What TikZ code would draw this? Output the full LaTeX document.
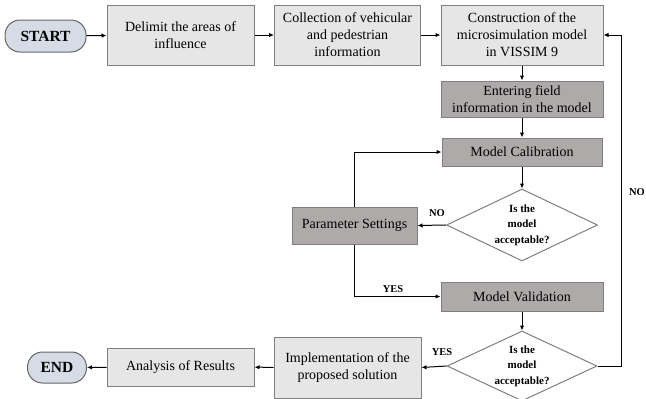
\documentclass[tikz,border=0pt]{standalone}
\usepackage{fontspec}
\setmainfont{Liberation Serif}
\usetikzlibrary{shapes.geometric,arrows.meta}
\definecolor{lightbox}{HTML}{E7E6E6}
\definecolor{darkbox}{HTML}{AEAAAA}
\definecolor{termfill}{HTML}{D6DCE5}
\definecolor{boxline}{HTML}{7F7F7F}
\begin{document}
\begin{tikzpicture}[x=1pt,y=-1pt,
  sz/.style 2 args={minimum width=#1pt, minimum height=#2pt},
  basebox/.style={draw=boxline, line width=1pt, inner sep=0pt, align=center,
    font=\fontsize{14}{17}\selectfont},
  lbox/.style={basebox, fill=lightbox},
  dbox/.style={basebox, fill=darkbox},
  term/.style={draw=boxline!80!black, line width=1pt, fill=termfill, rounded corners=15pt,
    inner sep=0pt, font=\fontsize{15.5}{18}\selectfont\bfseries},
  dec/.style={diamond, draw=boxline, line width=1pt, fill=white, inner sep=0pt},
  dectext/.style={align=center, font=\fontsize{11}{15.5}\selectfont\bfseries},
  lab/.style={font=\fontsize{10.5}{12}\selectfont\bfseries, inner sep=0pt},
  arr/.style={-{Latex[length=5pt,width=4.5pt]}, line width=1pt}
]
\useasboundingbox (0,0) rectangle (646,399);

\node[term, sz={81}{32}] (start) at (45.5,36) {START};
\node[lbox, sz={147}{60}] (b1) at (180.5,35) {Delimit the areas of\\influence};
\node[lbox, sz={146}{60}] (b2) at (347.5,35) {Collection of vehicular\\and pedestrian\\information};
\node[lbox, sz={162}{60}] (b3) at (522,35) {Construction of the\\microsimulation model\\in VISSIM 9};
\node[dbox, sz={162}{36}] (b4) at (522,99) {Entering field\\information in the model};
\node[dbox, sz={160}{28}] (cal) at (522,152) {Model Calibration};
\node[dec, minimum width=151pt, minimum height=72pt,
  label={[dectext]center:Is the\\model\\acceptable?}] (d1) at (522,225) {};
\node[dbox, sz={125}{37}] (par) at (354.5,225.5) {Parameter Settings};
\node[dbox, sz={162}{29}] (val) at (522,296.5) {Model Validation};
\node[dec, minimum width=150pt, minimum height=70pt,
  label={[dectext]center:Is the\\model\\acceptable?}] (d2) at (522,366) {};
\node[lbox, sz={147}{61}] (impl) at (347.5,367.5) {Implementation of the\\proposed solution};
\node[lbox, sz={147}{38}] (ana) at (180.5,367) {Analysis of Results};
\node[term, sz={59}{31}] (end) at (57,367.5) {END};

\node[lab] (no1) at (437,213) {NO};
\node[lab] (yes1) at (393,289) {YES};
\node[lab] (yes2) at (442,352) {YES};
\node[lab] (no2) at (637,192) {NO};

\draw[arr] (start) -- (b1);
\draw[arr] (b1) -- (b2);
\draw[arr] (b2) -- (b3);
\draw[arr] (b3) -- (b4);
\draw[arr] (b4) -- (cal);
\draw[arr] (cal) -- (d1);
\draw[arr] (d1.west) -- (par.east);
\draw[arr] (par.north) |- (cal.west);
\draw[arr] (par.south) |- (val.west);
\draw[arr] (val) -- (d2);
\draw[arr] (d2.west) -- (impl.east);
\draw[arr] (d2.east) -- ++(24,0) |- (b3.east);
\draw[arr] (impl) -- (ana);
\draw[arr] (ana) -- (end);
\end{tikzpicture}
\end{document}
